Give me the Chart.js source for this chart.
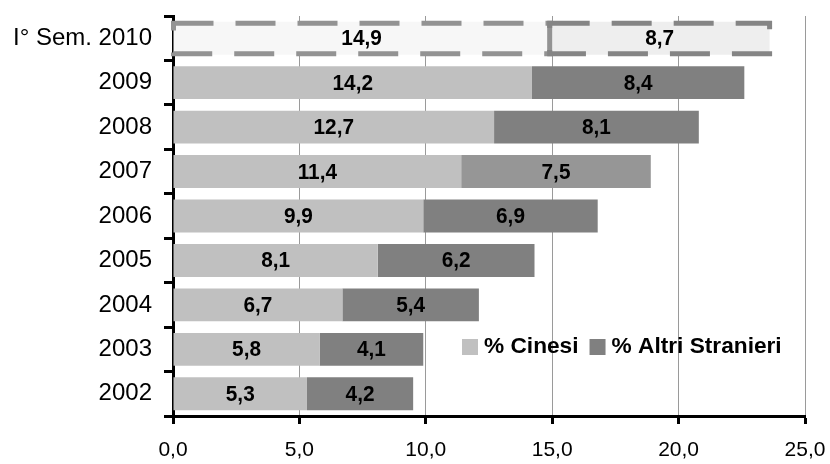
<!DOCTYPE html>
<html>
<head>
<meta charset="utf-8">
<script src="https://cdn.jsdelivr.net/npm/chart.js@4.4.0/dist/chart.umd.min.js"></script>
<style>
  html, body { margin: 0; padding: 0; background: #fff; }
  #wrap { position: relative; width: 830px; height: 464px; }
</style>
</head>
<body>
<div id="wrap"><canvas id="c" width="830" height="464"></canvas></div>
<script>
const categories = ['I° Sem. 2010', '2009', '2008', '2007', '2006', '2005', '2004', '2003', '2002'];
const cinesi = [14.9, 14.2, 12.7, 11.4, 9.9, 8.1, 6.7, 5.8, 5.3];
const altri = [8.7, 8.4, 8.1, 7.5, 6.9, 6.2, 5.4, 4.1, 4.2];
const seriesNames = ['% Cinesi', '% Altri Stranieri'];
const xTicks = [0, 5, 10, 15, 20, 25];

const cinesiColors = ['#f7f7f7', '#c0c0c0', '#c0c0c0', '#c0c0c0', '#c0c0c0', '#c0c0c0', '#c0c0c0', '#c0c0c0', '#c0c0c0'];
const altriColors = ['#eeeeee', '#808080', '#808080', '#969696', '#808080', '#808080', '#808080', '#808080', '#808080'];
const legendColors = ['#c0c0c0', '#808080'];

const fmt = v => Number(v).toFixed(1).replace('.', ',');

const dashedTopBar = {
  id: 'dashedTopBar',
  afterDatasetsDraw(chart) {
    const ctx = chart.ctx;
    const strokeColors = ['#939393', '#858585'];
    chart.data.datasets.forEach((ds, di) => {
      const meta = chart.getDatasetMeta(di);
      const el = meta.data[0];
      if (!el) return;
      const p = el.getProps(['x', 'y', 'base', 'height'], true);
      const left = Math.min(p.x, p.base), right = Math.max(p.x, p.base);
      const top = p.y - p.height / 2 + 1.5, bottom = p.y + p.height / 2 - 1;
      ctx.save();
      ctx.strokeStyle = strokeColors[di];
      ctx.lineWidth = 5;
      ctx.setLineDash([40, 22]);
      ctx.beginPath();
      ctx.moveTo(left, top);
      ctx.lineTo(right, top);
      ctx.lineTo(right, bottom);
      ctx.lineTo(left, bottom);
      ctx.closePath();
      ctx.stroke();
      ctx.restore();
    });
  }
};

const barLabels = {
  id: 'barLabels',
  afterDatasetsDraw(chart) {
    const ctx = chart.ctx;
    chart.data.datasets.forEach((ds, di) => {
      const meta = chart.getDatasetMeta(di);
      meta.data.forEach((el, i) => {
        const p = el.getProps(['x', 'y', 'base'], true);
        ctx.save();
        ctx.translate((p.x + p.base) / 2, p.y + 1);
        ctx.scale(1.04, 1.08);
        ctx.font = 'bold 20px "Liberation Sans", Arial, sans-serif';
        ctx.fillStyle = '#000';
        ctx.textAlign = 'center';
        ctx.textBaseline = 'middle';
        ctx.fillText(fmt(ds.data[i]), 0, 0);
        ctx.restore();
      });
    });
  }
};

const innerLegend = {
  id: 'innerLegend',
  afterDraw(chart) {
    const ctx = chart.ctx;
    const a = chart.chartArea;
    ctx.save();
    ctx.font = 'bold 21px "Liberation Sans", Arial, sans-serif';
    ctx.textBaseline = 'middle';
    ctx.textAlign = 'left';
    const sx = 1.08;
    let x = a.left + 289;
    const y = a.top + 331;
    seriesNames.forEach((name, i) => {
      ctx.fillStyle = legendColors[i];
      ctx.fillRect(x, y - 8, 16, 16);
      ctx.fillStyle = '#000';
      ctx.save();
      ctx.translate(x + 22, y);
      ctx.scale(sx, 1.02);
      ctx.fillText(name, 0, 0);
      ctx.restore();
      x += 22 + ctx.measureText(name).width * sx + 11;
    });
    ctx.restore();
  }
};

new Chart(document.getElementById('c'), {
  type: 'bar',
  data: {
    labels: categories,
    datasets: [
      { label: seriesNames[0], data: cinesi, backgroundColor: cinesiColors, borderWidth: 0, barPercentage: 0.74, categoryPercentage: 1 },
      { label: seriesNames[1], data: altri, backgroundColor: altriColors, borderWidth: 0, barPercentage: 0.74, categoryPercentage: 1 }
    ]
  },
  options: {
    indexAxis: 'y',
    responsive: false,
    animation: false,
    devicePixelRatio: 1,
    layout: { padding: { top: 16, right: 25, left: 0, bottom: 0 } },
    plugins: { legend: { display: false }, tooltip: { enabled: false } },
    scales: {
      x: {
        stacked: true,
        min: 0,
        max: 25,
        afterBuildTicks(scale) { scale.ticks = xTicks.map(v => ({ value: v })); },
        afterFit(scale) { scale.height = 48; scale.paddingLeft = 0; scale.paddingRight = 0; },
        ticks: {
          font: { family: '"Liberation Sans", Arial, sans-serif', size: 21 },
          color: '#000',
          padding: 14,
          maxRotation: 0,
          callback: v => fmt(v)
        },
        grid: {
          color: '#9a9a9a',
          lineWidth: 1,
          borderDash: [7, 7],
          drawTicks: true,
          tickLength: 8,
          tickColor: '#000',
          tickWidth: 3,
          tickBorderDash: []
        },
        border: { display: true, color: '#000', width: 3 }
      },
      y: {
        stacked: true,
        afterFit(scale) { scale.width = 173; scale.paddingTop = 0; scale.paddingBottom = 0; },
        ticks: {
          font: { family: '"Liberation Sans", Arial, sans-serif', size: 24 },
          color: '#000',
          padding: 12
        },
        grid: {
          offset: true,
          drawOnChartArea: false,
          drawTicks: true,
          tickLength: 9,
          tickColor: '#000',
          tickWidth: 3
        },
        border: { display: true, color: '#000', width: 3 }
      }
    }
  },
  plugins: [dashedTopBar, barLabels, innerLegend]
});
</script>
</body>
</html>
